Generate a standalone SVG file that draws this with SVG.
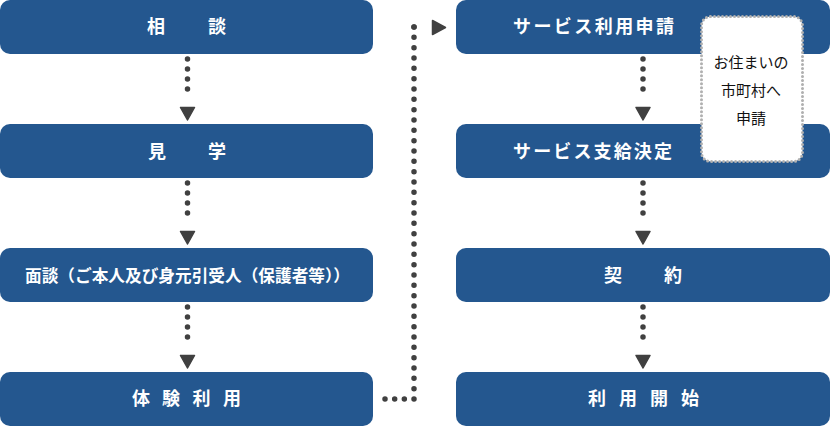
<svg xmlns="http://www.w3.org/2000/svg" width="830" height="426" viewBox="0 0 830 426">
<style>
.box{fill:#24578f}
.lbl{font-family:"Noto Sans CJK JP","Noto Sans",sans-serif;font-size:18px;font-weight:bold;fill:#ffffff;text-anchor:middle}
.dot{fill:none;stroke:#404040;stroke-width:5.5;stroke-linecap:round;stroke-dasharray:0 1}
.tri{fill:#404040;stroke:#404040;stroke-width:1.5;stroke-linejoin:round}
.note{font-family:"Noto Sans CJK JP","Noto Sans",sans-serif;font-size:15px;fill:#111111;text-anchor:middle}
</style>
<rect width="830" height="426" fill="#ffffff"/>
<g id="connectors">
  <path class="dot" d="M187.5 59 V99" pathLength="4"/>
  <polygon class="tri" points="180.5,107.5 194.5,107.5 187.5,120"/>
  <path class="dot" d="M187.5 183 V223" pathLength="4"/>
  <polygon class="tri" points="180.5,231.5 194.5,231.5 187.5,244"/>
  <path class="dot" d="M187.5 307 V347" pathLength="4"/>
  <polygon class="tri" points="180.5,355.5 194.5,355.5 187.5,368"/>
  <path class="dot" d="M385 399 H414" pathLength="3"/>
  <path class="dot" d="M414 399 V27" pathLength="36"/>
  <path class="dot" d="M414 27 H424" pathLength="1"/>
  <polygon class="tri" points="432.5,20.5 432.5,34.5 445.5,27.5"/>
  <path class="dot" d="M643 59 V99" pathLength="4"/>
  <polygon class="tri" points="636,107.5 650,107.5 643,120"/>
  <path class="dot" d="M643 183 V223" pathLength="4"/>
  <polygon class="tri" points="636,231.5 650,231.5 643,244"/>
  <path class="dot" d="M643 307 V347" pathLength="4"/>
  <polygon class="tri" points="636,355.5 650,355.5 643,368"/>
</g>
<g id="n1"><rect class="box" x="0" y="0" width="373" height="54" rx="10"/><text class="lbl" x="156 217" y="33">相談</text></g>
<g id="n2"><rect class="box" x="0" y="124" width="373" height="54" rx="10"/><text class="lbl" x="157 217" y="157.5">見学</text></g>
<g id="n3"><rect class="box" x="0" y="248" width="373" height="54" rx="10"/><text class="lbl" x="25" y="281.5" style="font-size:16.5px;text-anchor:start" textLength="325" lengthAdjust="spacingAndGlyphs">面談（ご本人及び身元引受人（保護者等））</text></g>
<g id="n4"><rect class="box" x="0" y="372" width="373" height="54" rx="10"/><text class="lbl" x="141 171 201.5 232" y="405">体験利用</text></g>
<g id="n5"><rect class="box" x="456" y="0" width="374" height="54" rx="10"/><text class="lbl" x="513" y="33" style="text-anchor:start" textLength="161" lengthAdjust="spacing">サービス利用申請</text></g>
<g id="n6"><rect class="box" x="456" y="124" width="374" height="54" rx="10"/><text class="lbl" x="513" y="157.5" style="text-anchor:start" textLength="159" lengthAdjust="spacing">サービス支給決定</text></g>
<g id="n7"><rect class="box" x="456" y="248" width="374" height="54" rx="10"/><text class="lbl" x="613 673" y="281.5">契約</text></g>
<g id="n8"><rect class="box" x="456" y="372" width="374" height="54" rx="10"/><text class="lbl" x="597 628 659 690" y="405">利用開始</text></g>
<g id="note">
  <rect x="701.5" y="16.5" width="101" height="145" rx="9" fill="#ffffff" stroke="#b0b0b0" stroke-width="3" stroke-linecap="round" stroke-dasharray="0 4"/>
  <text class="note" x="751" y="67.5">お住まいの</text>
  <text class="note" x="751" y="95.5">市町村へ</text>
  <text class="note" x="751" y="123.5">申請</text>
</g>
</svg>
